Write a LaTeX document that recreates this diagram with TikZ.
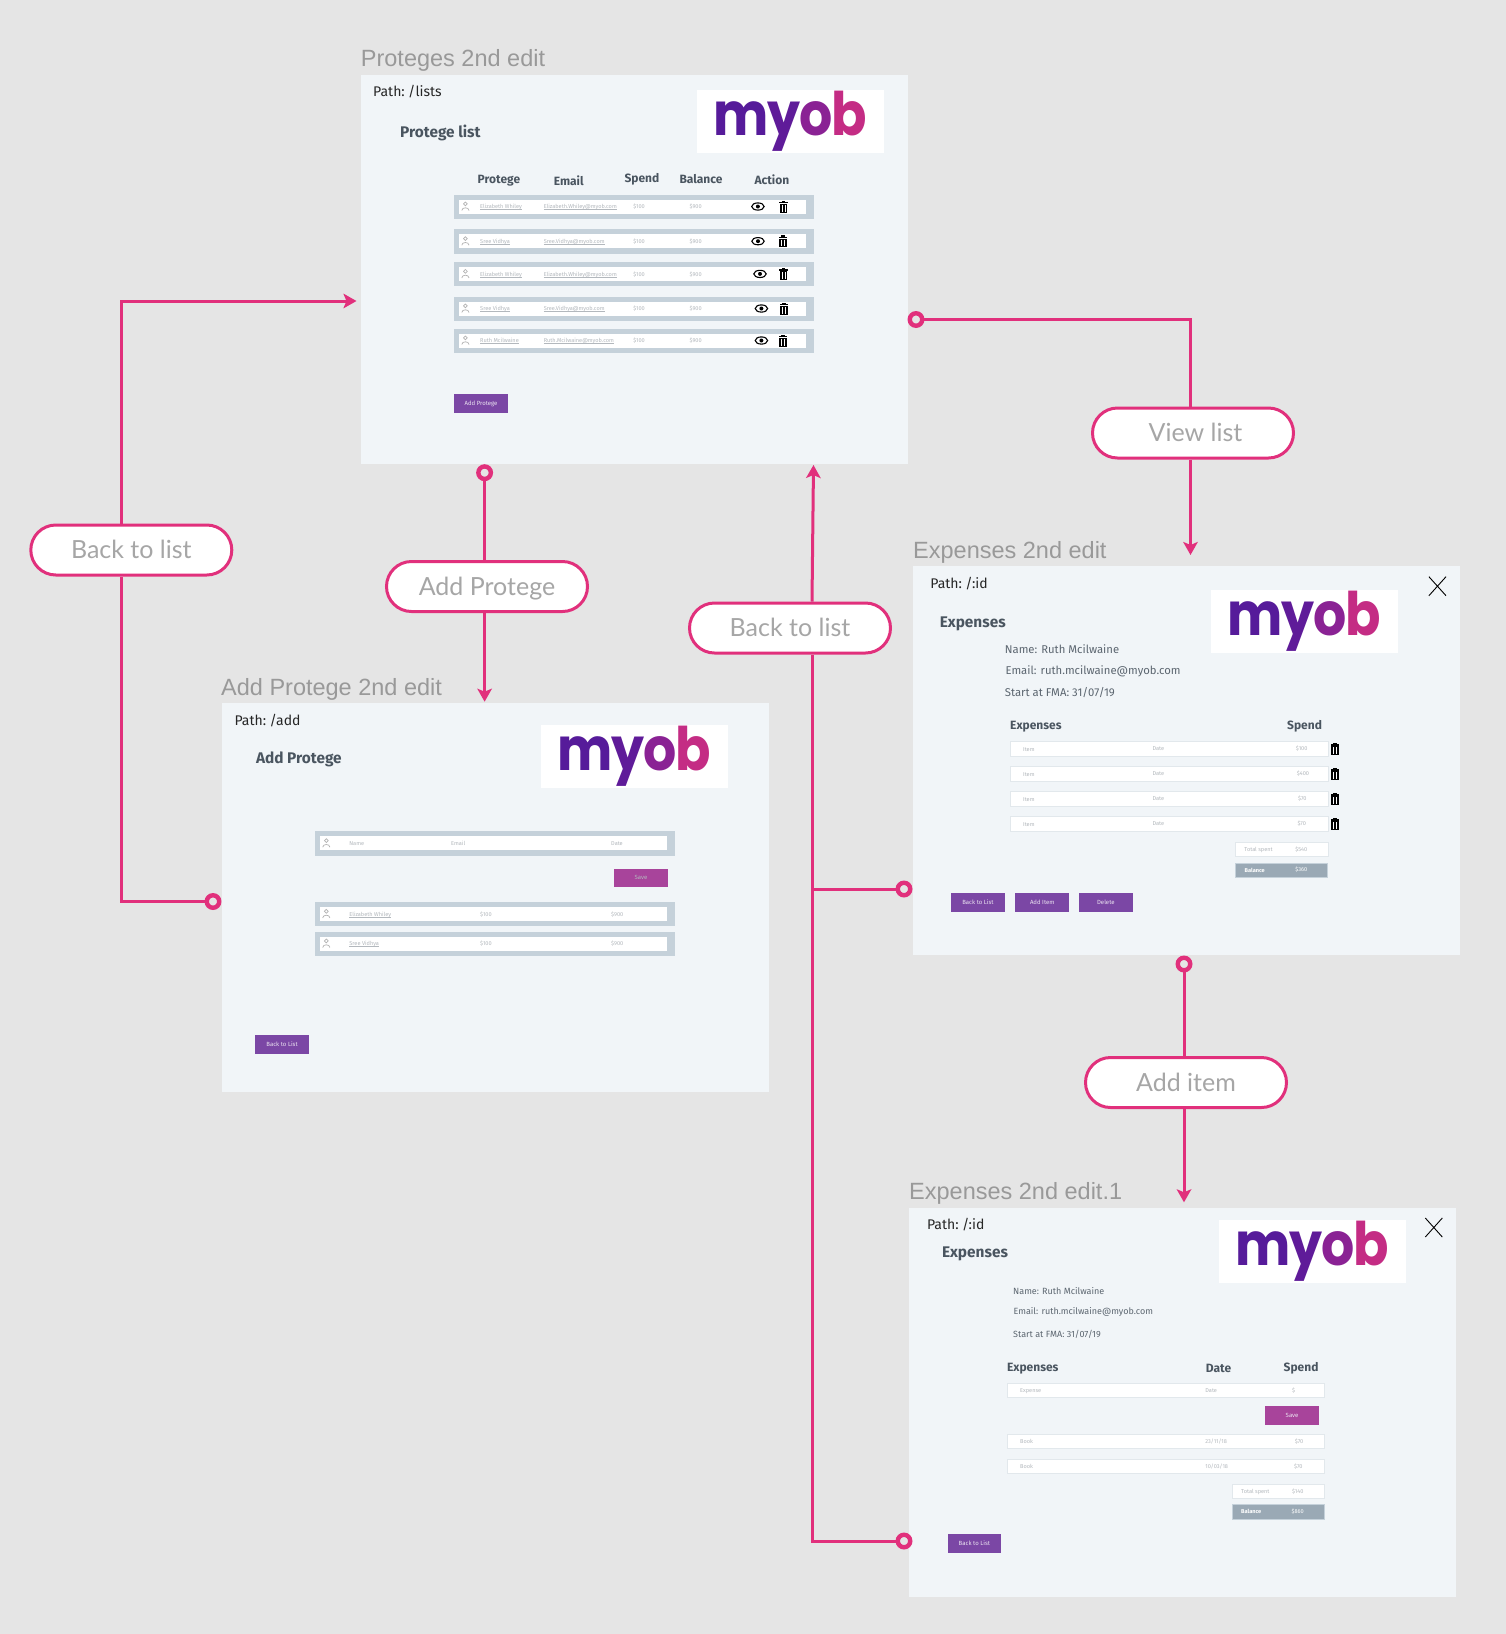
\documentclass[tikz,border=0pt]{standalone}
\usepackage{fontspec}
\usepackage{tikz}
\usetikzlibrary{arrows.meta}
\usetikzlibrary{positioning}
\setmainfont{Fira Sans}
\newfontfamily\titlefont{Liberation Sans}
\newfontfamily\pillfont{Lato}
\newfontfamily\logofont{Poppins}
\definecolor{canvasc}{HTML}{E5E5E5}
\definecolor{framec}{HTML}{F1F5F8}
\definecolor{pinkc}{HTML}{E1307C}
\definecolor{barc}{HTML}{C5D1DA}
\definecolor{btnc}{HTML}{7B47A5}
\definecolor{savec}{HTML}{A8449B}
\definecolor{headc}{HTML}{4A5560}
\definecolor{tinyc}{HTML}{B3B8BD}
\definecolor{balc}{HTML}{9AA9B5}
\newcommand{\myobword}{\scalebox{0.87}[1]{\logofont\bfseries\textcolor[HTML]{561B9A}{m}\hspace{-1.5pt}\textcolor[HTML]{5F1B99}{y}\hspace{-1.5pt}\textcolor[HTML]{8A2294}{o}\hspace{-1pt}\textcolor[HTML]{C42C84}{b}}}
\newcommand{\uln}[1]{\setbox0\hbox{#1}\rlap{\rule[-0.9pt]{\wd0}{0.35pt}}\box0}
\tikzset{
  x=1pt,y=-1pt,
  frame/.style={fill=framec,anchor=north west,minimum width=547pt,minimum height=389pt,inner sep=0pt},
  ftitle/.style={anchor=base west,inner sep=0pt,text=black!40,font=\titlefont\fontsize{23.5}{26}\selectfont},
  pathtxt/.style={anchor=west,inner sep=0pt,text=black!85,yshift=-1pt,font=\fontsize{14}{17}\selectfont},
  htxt/.style={anchor=west,inner sep=0pt,text=headc,font=\bfseries\fontsize{15.4}{17}\selectfont,yshift=-2pt},
  chead/.style={anchor=west,inner sep=0pt,text=headc,font=\bfseries\fontsize{12}{14}\selectfont,yshift=-1pt},
  info/.style={anchor=west,inner sep=0pt,text=headc!90,font=\fontsize{#1}{13}\selectfont},
  tiny/.style={anchor=west,inner sep=0pt,text=tinyc,text height=4pt,text depth=1pt,yshift=-0.8pt,font=\fontsize{5.6}{7}\selectfont},
  tinymid/.style={tiny,anchor=center},
  barbox/.style={fill=barc,anchor=north west,minimum width=#1,minimum height=24.5pt,inner sep=0pt},
  whitebox/.style={fill=white,anchor=north west,minimum width=#1,minimum height=14pt,inner sep=0pt},
  linebox/.style={fill=white,draw=barc!50,line width=0.8pt,anchor=north west,minimum width=#1,minimum height=14.5pt,inner sep=0pt},
  balbox/.style={fill=balc,draw=barc,line width=0.8pt,anchor=north west,minimum width=92.5pt,minimum height=14.5pt,inner sep=0pt,text=white},
  btn/.style={fill=btnc,anchor=north west,minimum width=53.7pt,minimum height=18.7pt,inner sep=0pt,text=white!85!btnc,font=\fontsize{6}{7}\selectfont},
  savebtn/.style={btn,fill=savec},
  logobox/.style={fill=white,anchor=north west,minimum width=187pt,minimum height=63pt,inner sep=0pt,font=\fontsize{60}{60}\selectfont},
  pill/.style={fill=white,draw=pinkc,line width=3pt,rounded corners=25pt,minimum width=201pt,minimum height=50pt,inner sep=0pt,text height=18pt,text depth=1pt,text=black!35,font=\pillfont\fontsize{25}{28}\selectfont},
  ring/.style={circle,fill=canvasc,draw=pinkc,line width=4.4pt,minimum size=12.5pt,inner sep=0pt},
  link/.style={draw=pinkc,line width=3pt},
  arr/.style={link,-{Stealth[length=13pt,width=14.5pt,inset=3pt]}},
  closex/.style={draw=black,line width=0.9pt},
  trashicon/.pic={
    \fill[black] (-4.3,-4.6) rectangle (4.3,-3.2);
    \fill[black] (-1.6,-6) rectangle (1.6,-4.6);
    \fill[black] (-3.6,-2.6) rectangle (3.6,6);
    \draw[white,line width=0.6pt] (-1.3,-1.6) -- (-1.3,5) (1.3,-1.6) -- (1.3,5);
  },
  eyeicon/.pic={
    \draw[black,line width=1.1pt] (0,0) ellipse (6.2 and 3.6);
    \fill[black] (0,0) circle (2);
  },
  personicon/.pic={
    \draw[black!30,line width=0.7pt] (0,-2.6) circle (1.9);
    \draw[black!30,line width=0.7pt] (-3.6,4) .. controls (-3.6,0.4) and (3.6,0.4) .. (3.6,4);
  }
}
\begin{document}
\begin{tikzpicture}
\useasboundingbox (0,0) rectangle (1506,1634);
\fill[canvasc] (0,0) rectangle (1506,1634);
% frames
\node (f1) [frame] at (360.7,75) {};
\node (f2) [frame] at (221.5,703) {};
\node (f3) [frame] at (912.7,566) {};
\node (f4) [frame] at (909,1207.7) {};
\node (t1) [ftitle] at (360.7,66) {Proteges 2nd edit};
\node (t2) [ftitle] at (221,695) {Add Protege 2nd edit};
\node (t3) [ftitle] at (913,558) {Expenses 2nd edit};
\node (t4) [ftitle] at (909,1199) {Expenses 2nd edit.1};
\node (l1) [logobox] at (696.4,90) {\myobword};
\node (l2) [logobox] at (540.4,725) {\myobword};
\node (l3) [logobox] at (1210.8,590) {\myobword};
\node (l4) [logobox] at (1218.4,1220) {\myobword};
% first frame
\node (path1) [pathtxt] at (373,91) {Path:\hspace{-1.5pt} /lists};
\node (head1) [htxt] at (400,130.7) {Protege list};
\node (col1) [chead] at (477.5,180) {Protege};
\node (col2) [chead] at (553.6,180) {Email};
\node (col3) [chead] at (624.3,178.3) {Spend};
\node (col4) [chead] at (679.3,178.3) {Balance};
\node (col5) [chead] at (754.3,178.5) {Action};
\foreach \i/\y/\who/\mail/\ex/\tx in {1/194.3/Elizabeth Whiley/Elizabeth.Whiley@myob.com/757.9/783.6,2/229/Sree Vidhya/Sree.Vidhya@myob.com/758/783,3/261.7/Elizabeth Whiley/Elizabeth.Whiley@myob.com/760/783.6,4/296.3/Sree Vidhya/Sree.Vidhya@myob.com/761.4/784,5/328.3/Ruth Mcilwaine/Ruth.Mcilwaine@myob.com/761.4/783}{
  \node (bar\i) [barbox=360pt] at (454,\y) {};
  \node (row\i) [whitebox=347.4pt] at (458.6,\y+5.2) {};
  \pic at (465.4,\y+12.2) {personicon};
  \node (who\i) [tiny] at (480,\y+12.2) {\uln{\who}};
  \node (mail\i) [tiny] at (543.6,\y+12.2) {\uln{\mail}};
  \node (sp\i) [tinymid] at (639,\y+12.2) {\$100};
  \node (ba\i) [tinymid] at (695.7,\y+12.2) {\$900};
  \pic at (\ex,\y+12.2) {eyeicon};
  \pic at (\tx,\y+12.2) {trashicon};
}
\node (addbtn) [btn] at (454,394) {Add Protege};
% second frame
\node (path2) [pathtxt] at (234.4,719.3) {Path:\hspace{-1.5pt} /add};
\node (head2) [htxt] at (255.8,757) {Add Protege};
\foreach \i/\y/\who/\am/\bl in {6/831/Name/Email/Date,7/901.7/\uln{Elizabeth Whiley}/\$100/\$900,8/931.3/\uln{Sree Vidhya}/\$100/\$900}{
  \node (bar\i) [barbox=360pt] at (315,\y) {};
  \node (row\i) [whitebox=347.6pt] at (319.4,\y+5.2) {};
  \pic at (326.3,\y+12.2) {personicon};
  \node (who\i) [tiny] at (349.2,\y+12.2) {\who};
  \node (ba\i) [tiny] at (611,\y+12.2) {\bl};
}
\node (am6) [tiny] at (451,843.2) {Email};
\node (am7) [tiny] at (480,913.9) {\$100};
\node (am8) [tiny] at (480,943.5) {\$100};
\node (save1) [savebtn,text=tinyc] at (613.9,868.3) {Save};
\node (back1) [btn] at (255,1035) {Back to List};
% third frame
\node (path3) [pathtxt] at (930.2,582.3) {Path:\hspace{-1.5pt} /:id};
\draw[closex] (1428.9,576.7) -- (1446,595.7) (1446,576.7) -- (1428.9,595.7);
\node (head3) [htxt] at (939.6,622.3) {Expenses};
\node (nm3) [info=11.3] at (1004.7,649.3) {Name: Ruth Mcilwaine};
\node (em3) [info=11.3] at (1005.4,671) {Email: ruth.mcilwaine@myob.com};
\node (st3) [info=11.3] at (1004.7,692.7) {Start at FMA: 31/07/19};
\node (ce3) [chead] at (1010,725.7) {Expenses};
\node (cs3) [chead] at (1287,725.7) {Spend};
\foreach \i/\y/\am/\ax in {1/741.3/\$100/1301.7,2/766.3/\$400/1303,3/791.3/\$70/1302.4,4/816.3/\$70/1301.7}{
  \node (it\i) [linebox=317.5pt] at (1010,\y) {};
  \node (itn\i) [tiny] at (1022.9,\y+7.4) {Item};
  \node (itd\i) [tiny] at (1152.3,\y+7) {Date};
  \node (ita\i) [tinymid] at (\ax,\y+7) {\am};
  \pic at (1335,\y+7.4) {trashicon};
}
\node (tot3) [linebox=92.7pt] at (1234.8,841.7) {};
\node (totn3) [tiny] at (1244.2,849) {Total spent};
\node (tota3) [tinymid] at (1301.3,849) {\$540};
\node (bal3) [balbox] at (1234.8,862.5) {};
\node (baln3) [tiny,text=white,font=\bfseries\fontsize{5.6}{7}\selectfont] at (1244.5,869.8) {Balance};
\node (bala3) [tinymid,text=white] at (1301.3,869.3) {\$360};
\node (back2) [btn] at (950.9,893) {Back to List};
\node (additem) [btn] at (1015.2,893) {Add Item};
\node (del) [btn] at (1078.8,893) {Delete};
% fourth frame
\node (path4) [pathtxt] at (926.9,1223.7) {Path:\hspace{-1.5pt} /:id};
\draw[closex] (1425.3,1218) -- (1442.3,1237) (1442.3,1218) -- (1425.3,1237);
\node (head4) [htxt] at (941.8,1252.3) {Expenses};
\node (nm4) [info=9] at (1013,1290.7) {Name: Ruth Mcilwaine};
\node (em4) [info=9] at (1013.4,1312.3) {Email: ruth.mcilwaine@myob.com};
\node (st4) [info=9] at (1013,1334) {Start at FMA: 31/07/19};
\node (ce4) [chead] at (1006.9,1367.3) {Expenses};
\node (cd4) [chead] at (1205.7,1367.3) {Date};
\node (cs4) [chead] at (1283.5,1367.3) {Spend};
\foreach \i/\y/\nm/\dt/\am/\ax in {5/1382.7/Expense/Date/\$/1293.7,6/1433.7/Book/23\slash 11\slash 18/\$70/1299.1,7/1458.7/Book/10\slash 03\slash 18/\$70/1298.4}{
  \node (it\i) [linebox=317.7pt] at (1006.5,\y) {};
  \node (itn\i) [tiny] at (1020,\y+7.4) {\nm};
  \node (itd\i) [tiny] at (1205.2,\y+7.4) {\dt};
  \node (ita\i) [tinymid] at (\ax,\y+7) {\am};
}
\node (save2) [savebtn] at (1265,1406) {Save};
\node (tot4) [linebox=92.7pt] at (1231.5,1483.7) {};
\node (totn4) [tiny] at (1241,1490.8) {Total spent};
\node (tota4) [tinymid] at (1297.7,1491) {\$140};
\node (bal4) [balbox] at (1231.5,1504) {};
\node (baln4) [tiny,text=white,font=\bfseries\fontsize{5.6}{7}\selectfont] at (1241,1511.4) {Balance};
\node (bala4) [tinymid,text=white] at (1297.7,1511.4) {\$860};
\node (back3) [btn] at (947.3,1534) {Back to List};
% pills and rings
\node (p1) [pill] at (131.3,550) {Back to list};
\node (p2) [pill] at (487,586.5) {Add Protege};
\node (p3) [pill] at (790,628) {Back to list};
\node (p5) [pill] at (1193,433) {\hspace*{5pt}View list};
\node (p6) [pill] at (1186,1082.5) {Add item};
\node (r1) [ring] at (213,901.5) {};
\node (r2) [ring] at (484.6,472.7) {};
\node (r3) [ring] at (904,889) {};
\node (r4) [ring] at (904,1541) {};
\node (r5) [ring] at (916,319.5) {};
\node (r6) [ring] at (1184,964) {};
\coordinate (k1) at (121,301);
\coordinate (a1) at (356.5,301);
\coordinate (a2) at (484.6,701.7);
\coordinate (a3) at (813.5,465);
\coordinate (k3) at (812,889);
\coordinate (a5) at (1190.5,555);
\coordinate (a6) at (1184,1202.3);
\draw[link] (r1) -| (k1 |- p1.south);
\draw[arr] (k1 |- p1.north) |- (a1);
\draw[link] (r2) -- (r2 |- p2.north);
\draw[arr] (r2 |- p2.south) -- (a2);
\draw[link] (r3) -- (k3);
\draw[link] (r4) -| (k3);
\draw[link] (k3) -- (k3 |- p3.south);
\draw[arr] (k3 |- p3.north) -- (a3);
\draw[link] (r5) -| (a5 |- p5.north);
\draw[arr] (a5 |- p5.south) -- (a5);
\draw[link] (r6) -- (r6 |- p6.north);
\draw[arr] (r6 |- p6.south) -- (a6);
\end{tikzpicture}
\end{document}
